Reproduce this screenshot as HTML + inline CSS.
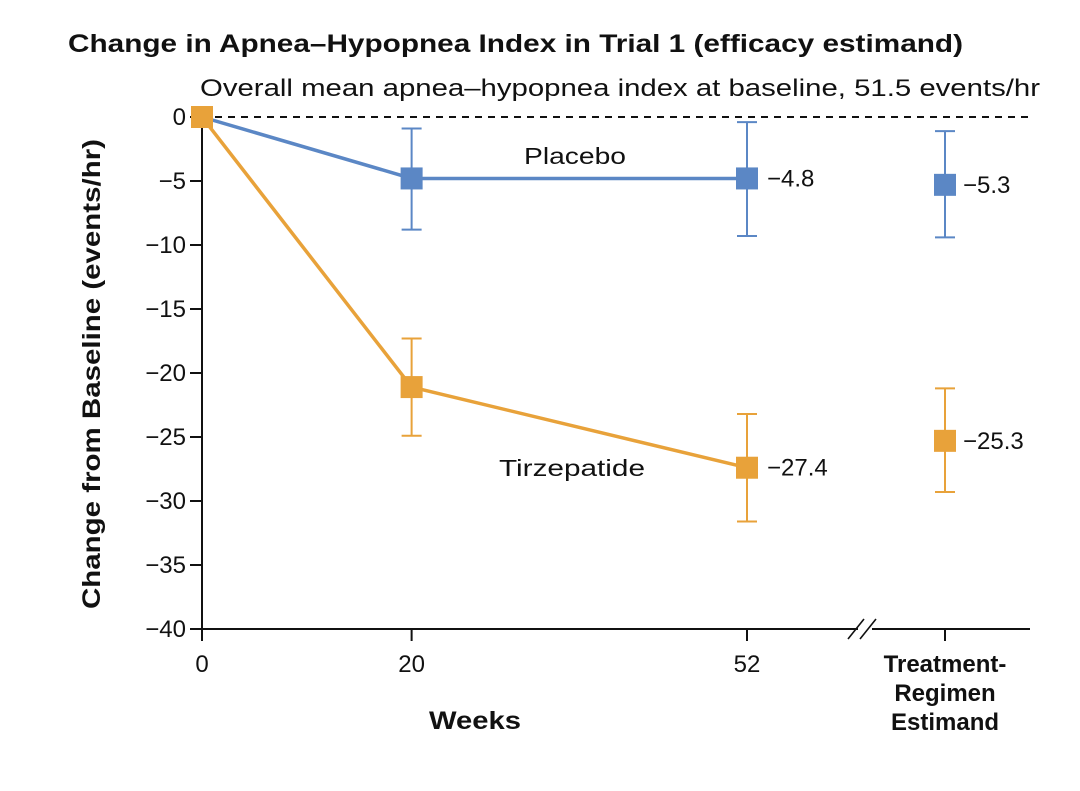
<!DOCTYPE html>
<html><head><meta charset="utf-8"><style>
body{margin:0;background:#fff;}
svg text{font-family:"Liberation Sans",sans-serif;}
</style></head><body>
<svg width="1080" height="786" viewBox="0 0 1080 786" xmlns="http://www.w3.org/2000/svg">
<text x="68" y="52" font-size="25" font-weight="bold" fill="#111" textLength="895" lengthAdjust="spacingAndGlyphs">Change in Apnea–Hypopnea Index in Trial 1 (efficacy estimand)</text>
<text x="200" y="96" font-size="24" fill="#111" textLength="840" lengthAdjust="spacingAndGlyphs">Overall mean apnea–hypopnea index at baseline, 51.5 events/hr</text>
<g id="axes"></g>
<g id="marks"></g>
<text transform="translate(100,374) rotate(-90)" text-anchor="middle" font-size="25" font-weight="bold" fill="#111" textLength="470" lengthAdjust="spacingAndGlyphs">Change from Baseline (events/hr)</text>
<text x="475" y="729" text-anchor="middle" font-size="25" font-weight="bold" fill="#111" textLength="92" lengthAdjust="spacingAndGlyphs">Weeks</text>
<text x="945" y="672" text-anchor="middle" font-size="24" font-weight="bold" fill="#111"><tspan x="945">Treatment-</tspan><tspan x="945" dy="29">Regimen</tspan><tspan x="945" dy="29">Estimand</tspan></text>
<text x="575" y="164" text-anchor="middle" font-size="23" fill="#111" textLength="102" lengthAdjust="spacingAndGlyphs">Placebo</text>
<text x="572" y="476" text-anchor="middle" font-size="23" fill="#111" textLength="146" lengthAdjust="spacingAndGlyphs">Tirzepatide</text>
</svg>
<script>
const yTicks=[0,-5,-10,-15,-20,-25,-30,-35,-40];
const xTicks=[0,20,52];
const weeks=[0,20,52];
const placeboMean=[0,-4.8,-4.8];
const placeboLo=[null,-8.8,-9.3];
const placeboHi=[null,-0.9,-0.4];
const placeboTRE=[-5.3,-9.4,-1.1];
const tirzMean=[0,-21.1,-27.4];
const tirzLo=[null,-24.9,-31.6];
const tirzHi=[null,-17.3,-23.2];
const tirzTRE=[-25.3,-29.3,-21.2];
const endLabels=["−4.8","−27.4"];
const treLabels=["−5.3","−25.3"];

const NS="http://www.w3.org/2000/svg";
const y=v=>117+(-v)*12.8;
const x=w=>202+w*(747-202)/52;
const xTRE=945;
const axes=document.getElementById('axes'),marks=document.getElementById('marks');
function mk(tag,attrs,parent){const e=document.createElementNS(NS,tag);for(const k in attrs)e.setAttribute(k,attrs[k]);parent.appendChild(e);return e;}

let l=mk('line',{x1:202,y1:117,x2:202,y2:629,stroke:'#111','stroke-width':2},axes);

l=mk('line',{x1:202,y1:629,x2:858,y2:629,stroke:'#111','stroke-width':2},axes);

l=mk('line',{x1:872,y1:629,x2:1030,y2:629,stroke:'#111','stroke-width':2},axes);

let br=mk('path',{d:'M848,639 L864,619 M860,639 L876,619',stroke:'#111','stroke-width':1.6,fill:'none'},axes);

l=mk('line',{x1:202,y1:y(0),x2:1030,y2:y(0),stroke:'#111','stroke-width':2,'stroke-dasharray':'7,6'},axes);

yTicks.forEach(t=>{
  const tk=mk('line',{x1:190,y1:y(t),x2:202,y2:y(t),stroke:'#111','stroke-width':2},axes);
  
  const tx=mk('text',{x:186,y:y(t)+8,'text-anchor':'end','font-size':24,fill:'#111'},axes);
  tx.textContent=t===0?'0':'−'+(-t);
  
});
xTicks.concat(['TRE']).forEach(t=>{
  const xx=t==='TRE'?xTRE:x(t);
  const tk=mk('line',{x1:xx,y1:629,x2:xx,y2:641,stroke:'#111','stroke-width':2},axes);
  
  if(t!=='TRE'){const tx=mk('text',{x:xx,y:672,'text-anchor':'middle','font-size':24,fill:'#111'},axes);
  tx.textContent=t;}
});
function series(name,color,mean,lo,hi,tre,endLbl,treLbl){
  const pts=weeks.map((w,i)=>x(w)+','+y(mean[i])).join(' ');
  const pl=mk('polyline',{points:pts,fill:'none',stroke:color,'stroke-width':3.5},marks);
  
  function err(xx,a,b){
    const g=mk('path',{d:`M${xx},${y(a)}V${y(b)}M${xx-10},${y(a)}H${xx+10}M${xx-10},${y(b)}H${xx+10}`,stroke:color,'stroke-width':2,fill:'none'},marks);
    
  }
  function sq(xx,v){
    const r=mk('rect',{x:xx-11,y:y(v)-11,width:22,height:22,fill:color},marks);
    
  }
  weeks.forEach((w,i)=>{if(lo[i]!==null)err(x(w),lo[i],hi[i]);});
  err(xTRE,tre[1],tre[2]);
  weeks.forEach((w,i)=>sq(x(w),mean[i]));
  sq(xTRE,tre[0]);
  let t=mk('text',{x:x(52)+20,y:y(mean[2])+8,'font-size':24,fill:'#111'},marks);t.textContent=endLbl;
  
  t=mk('text',{x:xTRE+18,y:y(tre[0])+8,'font-size':24,fill:'#111'},marks);t.textContent=treLbl;
  
}
series('placebo','#5b87c5',placeboMean,placeboLo,placeboHi,placeboTRE,endLabels[0],treLabels[0]);
series('tirzepatide','#e8a23a',tirzMean,tirzLo,tirzHi,tirzTRE,endLabels[1],treLabels[1]);
</script>
</body></html>
